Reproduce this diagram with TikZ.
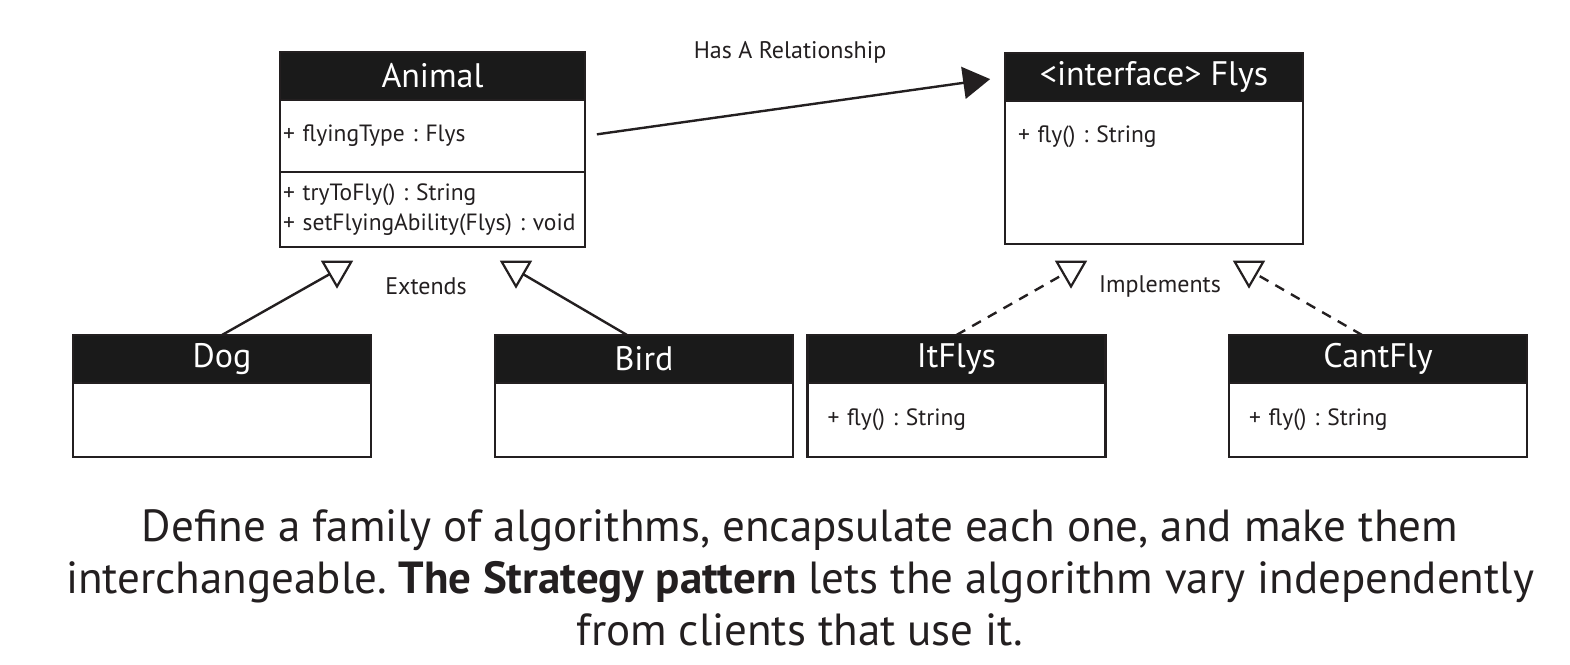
\documentclass[tikz,border=0pt]{standalone}
\usepackage{fontspec}
\setmainfont{PT Sans}
\frenchspacing
\usetikzlibrary{
  arrows.meta,
  positioning,
  shapes.geometric
}
\definecolor{ink}{HTML}{231F20}
\definecolor{headfill}{HTML}{1A1A1A}
\tikzset{
  every node/.style={align=center, outer sep=0pt, text=ink},
  classhead/.style={draw=ink, fill=headfill, text=white, line width=2.5pt,
    minimum width=298pt, minimum height=48pt, inner sep=0pt,
    font=\fontsize{34}{38}\selectfont},
  classbody/.style={draw=ink, fill=white, line width=2.5pt, align=left,
    inner xsep=20pt, inner ysep=0pt, text width=258pt,
    font=\fontsize{23.5}{30}\selectfont},
  gen/.style={draw=ink, line width=2.2pt, regular polygon,
    regular polygon sides=3, shape border rotate=180,
    minimum size=33pt, inner sep=0pt},
  tag/.style={font=\fontsize{24}{28}\selectfont},
  link/.style={draw=ink, line width=2.4pt},
}

\begin{document}
\begin{tikzpicture}[x=1pt, y=-1pt]
      \useasboundingbox (0,0) rectangle (1570,664);
      \node (animal) [classhead, minimum width=305pt] at (432.5,76) {Animal};
      \node (animal-attr) [classbody, below=0pt of animal, inner xsep=3pt,
        text width=299pt, minimum height=72pt] {
        + flyingType : Flys
      };
      \node (animal-ops) [classbody, below=0pt of animal-attr, inner xsep=3pt,
        text width=299pt, minimum height=75pt] {
        + tryToFly() : String \\
        + setFlyingAbility(Flys) : void
      };

      \node (flys) [classhead] at (1154,77) {<interface> Flys};
      \node (flys-ops) [classbody, below=0pt of flys, inner xsep=13pt,
        text width=272pt, text height=41pt, text depth=102pt] {
        + fly() : String
      };

      \node (dog) [classhead] at (222,359) {Dog};
      \node (dog-body) [classbody, below=0pt of dog, minimum height=74pt] {};
      \node (bird) [classhead] at (644,359) {Bird};
      \node (bird-body) [classbody, below=0pt of bird, minimum height=74pt] {};
      \node (itflys) [classhead] at (956.5,359) {ItFlys};
      \node (itflys-ops) [classbody, below=0pt of itflys, minimum height=74pt] {
        + fly() : String
      };
      \node (cantfly) [classhead] at (1378,359) {CantFly};
      \node (cantfly-ops) [classbody, below=0pt of cantfly, minimum height=74pt] {
        + fly() : String
      };

      \node (extL) [gen] at (337,270) {};
      \node (extR) [gen] at (516,270) {};
      \node (implL) [gen] at (1071,270) {};
      \node (implR) [gen] at (1249,270) {};

      \node (hasa) [tag] at (790,52) {Has A Relationship};
      \node (extends) [tag] at (426,286) {Extends};
      \node (implements) [tag] at (1160,286) {Implements};

      \node (caption) [font=\fontsize{45}{52}\selectfont, inner sep=0pt] at (800,578) {
        Define a family of algorithms, encapsulate each one, and make them \\
        interchangeable. \textbf{The Strategy pattern} lets the algorithm vary independently \\
        from clients that use it.
      };

      \draw [link, -{Triangle[length=27pt, width=32pt]}, shorten <=12pt, shorten >=15pt]
        (animal-attr.east) -- (flys.west);
      \draw [link] (dog.north) -- (extL);
      \draw [link] ([xshift=-17pt]bird.north) -- (extR);
      \draw [link, dash pattern=on 10pt off 8pt] (itflys.north) -- (implL);
      \draw [link, dash pattern=on 10pt off 8pt] ([xshift=-16pt]cantfly.north) -- (implR);
    \end{tikzpicture}
\end{document}
